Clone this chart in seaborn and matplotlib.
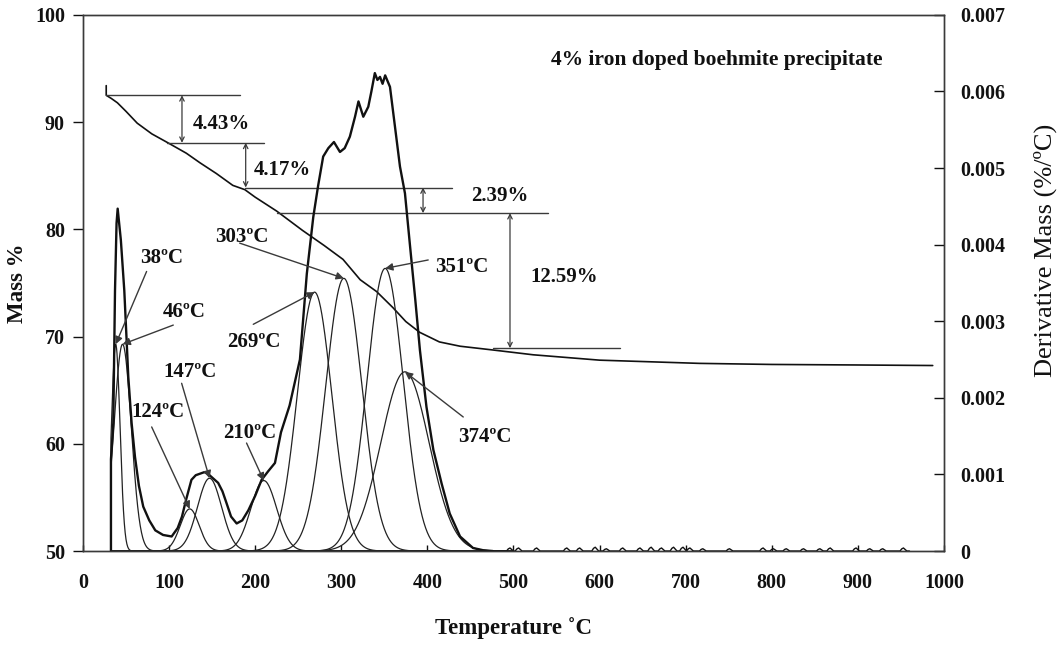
import numpy as np
import pandas as pd
import matplotlib
matplotlib.use("Agg")
import matplotlib.pyplot as plt
import seaborn as sns

# ---------------- data ----------------
# TGA mass curve
mass_temp = [27, 27, 33, 40, 50, 63, 80, 98, 120, 136, 155, 174, 188, 200, 225, 255,
             280, 302, 322, 341, 360, 375, 391, 414, 438, 476, 523, 600, 716, 800, 900, 987]
mass_pct = [93.4, 92.5, 92.2, 91.8, 91.0, 89.9, 88.9, 88.1, 87.1, 86.2, 85.2, 84.1, 83.7,
            83.0, 81.7, 79.9, 78.5, 77.2, 75.3, 74.2, 72.7, 71.4, 70.4, 69.5, 69.1, 68.75,
            68.3, 67.8, 67.5, 67.4, 67.35, 67.3]

# measured DTG curve
dtg_temp = [32.5, 32.5, 35.2, 37.2, 39, 40.3, 44, 48, 50.7, 52.6, 56.5, 60.4, 65, 70, 77, 84,
            93, 103, 110, 115, 120, 126, 131, 136, 141, 145, 150, 157, 162, 166, 172, 178.5,
            185, 192, 200, 207.5, 215, 223, 230, 240, 252, 260, 267.5, 273, 279, 285, 291.5,
            298.5, 304, 310, 316, 320, 325.6, 331.4, 335, 339, 342, 345, 348, 351, 356.6,
            362.4, 368.2, 374, 380, 386, 391.4, 399, 407, 416.6, 426, 438, 453, 465, 476]
dtg_value = [0, 0.0012, 0.00167, 0.0034, 0.00428, 0.00447, 0.00406, 0.0034, 0.00275, 0.00228,
             0.00167, 0.00123, 0.00085, 0.00058, 0.0004, 0.00027, 0.00021, 0.00019, 0.0003,
             0.00045, 0.00068, 0.00093, 0.00099, 0.00101, 0.00103, 0.00101, 0.00096, 0.00089,
             0.00078, 0.00065, 0.00045, 0.00036, 0.0004, 0.00053, 0.00072, 0.00093, 0.00104,
             0.00115, 0.00155, 0.0019, 0.0025, 0.00362, 0.00436, 0.00476, 0.00515, 0.00526,
             0.00534, 0.00521, 0.00526, 0.00541, 0.00567, 0.00587, 0.00567, 0.0058, 0.006,
             0.00624, 0.00615, 0.00619, 0.0061, 0.00621, 0.00606, 0.00554, 0.00502, 0.00467,
             0.00397, 0.00328, 0.00262, 0.00188, 0.00132, 0.00088, 0.00049, 0.00019, 0.00004,
             0.00001, 0]

# small noise blips of the DTG signal above 480 °C
blip_temp = [496, 506, 527, 562, 577, 595, 608, 627, 647, 660, 672, 686, 697, 705, 720, 751,
             790, 802, 817, 837, 856, 868, 898, 914, 929, 953]
blip_value = [0.00004, 0.00004, 0.00004, 0.00004, 0.00004, 0.00005, 0.00003, 0.00004,
              0.00004, 0.00005, 0.00004, 0.00005, 0.00005, 0.00004, 0.00003, 0.00003,
              0.00004, 0.00003, 0.00003, 0.00003, 0.00003, 0.00004, 0.00004, 0.00003,
              0.00003, 0.00004]

# fitted Gaussian components of the DTG curve
peak_temp = [38, 46, 124, 147, 210, 269, 303, 351, 374]
peak_height = [0.0027, 0.0027, 0.00055, 0.00095, 0.00092, 0.00338, 0.00356, 0.00369, 0.00234]
peak_sigma = [5, 10, 11, 14, 15, 20, 21, 21, 28]

# mass-loss steps
step_start = 92.5
step_loss = [4.43, 4.17, 2.39, 12.59]

x_ticks = [0, 100, 200, 300, 400, 500, 600, 700, 800, 900, 1000]
mass_ticks = [50, 60, 70, 80, 90, 100]
dtg_ticks = [0, 0.001, 0.002, 0.003, 0.004, 0.005, 0.006, 0.007]
dtg_tick_labels = ["0", "0.001", "0.002", "0.003", "0.004", "0.005", "0.006", "0.007"]

# ---------------- style ----------------
sns.set_theme(style="ticks")
plt.rcParams["font.family"] = ["Liberation Serif", "DejaVu Serif"]
plt.rcParams["font.weight"] = "bold"
plt.rcParams["axes.labelweight"] = "bold"

INK = "#111111"
GREY = "#3a3a3a"
TICK_FS = 14.5
PEAK_FS = 15
STEP_FS = 15

fig = plt.figure(figsize=(10.57, 6.46), dpi=100)
ax = fig.add_axes([0.0785, 0.147, 0.8145, 0.830])
ax2 = ax.twinx()

# ---------------- mass curve ----------------
mass_df = pd.DataFrame({"T": mass_temp, "m": mass_pct})
sns.lineplot(data=mass_df, x="T", y="m", ax=ax, sort=False, color=INK, lw=1.2,
             estimator=None)

# step lines and double arrows
levels = [step_start]
for loss in step_loss:
    levels.append(round(levels[-1] - loss, 2))
line_start = [27, 98, 188, 225, 476]
line_end = [182, 210, 429, 540, 624]
for lv, x0, x1 in zip(levels, line_start, line_end):
    ax.plot([x0, x1], [lv, lv], color=GREY, lw=1.0)
arrow_x = [115, 189, 395, 496]
label_pos = [(127, 89.8), (198, 85.5), (451, 83.1), (520, 75.6)]
for i, loss in enumerate(step_loss):
    ax.annotate("", xy=(arrow_x[i], levels[i + 1]), xytext=(arrow_x[i], levels[i]),
                arrowprops=dict(arrowstyle="<->", color=GREY, lw=0.9,
                                mutation_scale=8, shrinkA=0, shrinkB=0))
    ax.text(label_pos[i][0], label_pos[i][1], f"{loss:.2f}%", fontsize=STEP_FS,
            fontweight="bold", va="center", ha="left", color=INK)

ax.text(544, 95.8, "4% iron doped boehmite precipitate", fontsize=15.5,
        fontweight="bold", va="center", ha="left", color=INK)

# ---------------- DTG curves ----------------
grid = np.arange(32.5, 500.5, 0.5)
for c, h, s in zip(peak_temp, peak_height, peak_sigma):
    comp = h * np.exp(-0.5 * ((grid - c) / s) ** 2)
    sns.lineplot(x=np.r_[32.5, grid], y=np.r_[0, comp], ax=ax2, sort=False,
                 color="#222222", lw=0.9, estimator=None)

dtg_df = pd.DataFrame({"T": dtg_temp, "d": dtg_value})
sns.lineplot(data=dtg_df, x="T", y="d", ax=ax2, sort=False, color=INK, lw=1.7,
             estimator=None)

# noise blips along the baseline
blip_x, blip_y = [476], [0]
for t, v in zip(blip_temp, blip_value):
    blip_x += [t - 4, t - 2, t, t + 2, t + 4]
    blip_y += [0, v * 0.7, v, v * 0.5, 0]
blip_x.append(960)
blip_y.append(0)
sns.lineplot(x=blip_x, y=blip_y, ax=ax2, sort=False, color=INK, lw=1.0, estimator=None)

# peak annotations
peak_text = [(91, 0.00383), (117, 0.00312), (86.5, 0.00182), (124.3, 0.00234),
             (193.4, 0.00154), (198, 0.00273), (184, 0.0041), (440, 0.00371),
             (467, 0.00149)]
peak_tail = [(73.9, 0.00365), (104.9, 0.00295), (79.8, 0.00162), (114.6, 0.00219),
             (190, 0.00141), (197.8, 0.00296), (182, 0.00402), (401, 0.0038),
             (441.7, 0.00175)]
for c, h, txt, tail in zip(peak_temp, peak_height, peak_text, peak_tail):
    ax2.annotate("", xy=(c, h), xytext=tail,
                 arrowprops=dict(arrowstyle="-|>", color=GREY, lw=1.0,
                                 mutation_scale=11, shrinkA=0, shrinkB=0))
    ax2.text(txt[0], txt[1], f"{c}ºC", fontsize=PEAK_FS, fontweight="bold",
             ha="center", va="center", color=INK)

# ---------------- axes ----------------
ax.set_xlim(0, 1000)
ax.set_ylim(50, 100)
ax2.set_ylim(0, 0.007)
ax.set_xticks(x_ticks)
ax.set_yticks(mass_ticks)
ax2.set_yticks(dtg_ticks)
ax2.set_yticklabels(dtg_tick_labels)

ax.tick_params(axis="x", direction="in", length=4, width=1, pad=16, labelsize=TICK_FS,
               colors=INK)
ax.tick_params(axis="y", direction="out", length=7, width=1, pad=6, labelsize=TICK_FS,
               colors=INK)
ax2.tick_params(axis="y", direction="in", length=7, width=1, pad=12, labelsize=TICK_FS,
                colors=INK)
for a in (ax, ax2):
    for sp in a.spines.values():
        sp.set_visible(True)
        sp.set_color(GREY)
        sp.set_linewidth(1.0)

ax.set_xlabel("Temperature ˚C", fontsize=16.5, fontweight="bold", color=INK)
ax.xaxis.set_label_coords(0.5, -0.123)
ax.set_ylabel("Mass %", fontsize=16.5, fontweight="bold", color=INK)
ax.yaxis.set_label_coords(-0.064, 0.5)
ax2.set_ylabel("Derivative Mass (%/ºC)", fontsize=19, fontweight="normal", color=INK)
ax2.yaxis.set_label_coords(1.1045, 0.56)

fig.savefig("out.png", dpi=100, facecolor="white")
